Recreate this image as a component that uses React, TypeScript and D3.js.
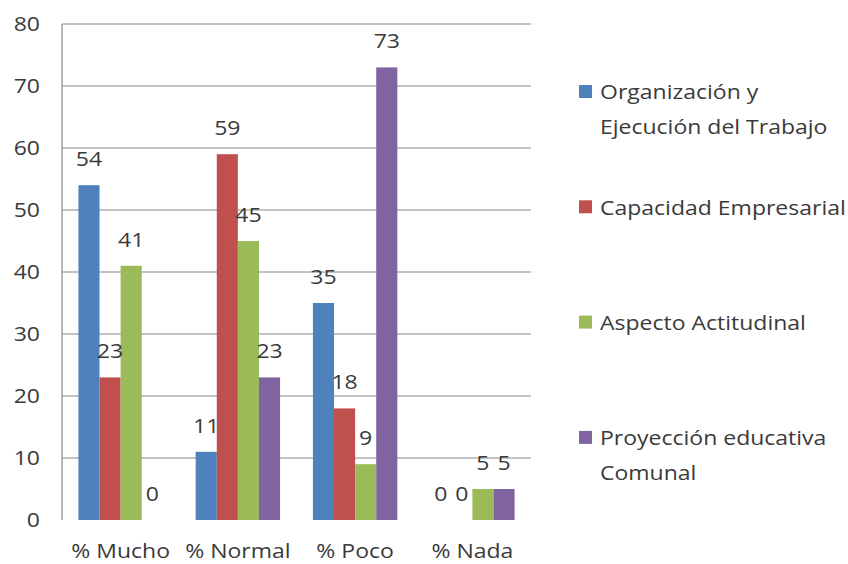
import React, { useRef, useEffect } from 'react';
import * as d3 from 'd3';

const categories = ['% Mucho', '% Normal', '% Poco', '% Nada'];
const seriesNames = [
  'Organización y Ejecución del Trabajo',
  'Capacidad Empresarial',
  'Aspecto Actitudinal',
  'Proyección educativa Comunal',
];
// legend text split into lines as in the picture
const legendLines = [
  ['Organización y', 'Ejecución del Trabajo'],
  ['Capacidad Empresarial'],
  ['Aspecto Actitudinal'],
  ['Proyección educativa', 'Comunal'],
];
const seriesColors = ['#4F81BD', '#C0504D', '#9BBB59', '#8064A2'];

const organizacion = [54, 11, 35, 0];
const capacidad = [23, 59, 18, 0];
const aspecto = [41, 45, 9, 5];
const proyeccion = [0, 23, 73, 5];

const yTicks = [0, 10, 20, 30, 40, 50, 60, 70, 80];

const W = 848;
const H = 564;
const FONT = "'Open Sans', 'DejaVu Sans', sans-serif";
const TEXT = '#3a3a3a';
const FS = '20px';
const SX = 1.15; // the original text is a bit stretched sideways

const App: React.FC = () => {
  const svgRef = useRef<SVGSVGElement>(null);

  useEffect(() => {
    if (!svgRef.current) return;
    const svg = d3.select(svgRef.current);
    svg.selectAll('*').remove();

    const series = [organizacion, capacidad, aspecto, proyeccion];
    const left = 62, right = 531, top = 24, bottom = 520;

    const x0 = d3.scaleBand<string>()
      .domain(categories)
      .range([left, right])
      .paddingInner(0.28)
      .paddingOuter(0.14);

    const x1 = d3.scaleBand<number>()
      .domain(d3.range(seriesNames.length))
      .range([0, x0.bandwidth()]);

    const y = d3.scaleLinear().domain([0, 80]).range([bottom, top]);

    // gridlines
    svg.append('g')
      .selectAll('line')
      .data(yTicks.filter(t => t > 0))
      .enter()
      .append('line')
      .attr('x1', left)
      .attr('x2', right)
      .attr('y1', d => y(d))
      .attr('y2', d => y(d))
      .attr('stroke', '#8a8a8a')
      .attr('stroke-width', 1.2);

    // y axis line
    svg.append('line')
      .attr('x1', left)
      .attr('x2', left)
      .attr('y1', y(80))
      .attr('y2', y(0))
      .attr('stroke', '#8a8a8a')
      .attr('stroke-width', 1.2);

    // y tick labels
    svg.append('g')
      .selectAll('text')
      .data(yTicks)
      .enter()
      .append('text')
      .attr('transform', d => `translate(40,${y(d)}) scale(${SX},1)`)
      .attr('dy', '0.36em')
      .attr('text-anchor', 'end')
      .style('font-family', FONT)
      .style('font-size', FS)
      .style('fill', TEXT)
      .text(d => d);

    // bars
    const groups = svg.append('g')
      .selectAll('g')
      .data(categories)
      .enter()
      .append('g')
      .attr('transform', d => `translate(${x0(d)},0)`);

    groups.selectAll('rect')
      .data((_, ci) => series.map((s, si) => ({ si, v: s[ci] })))
      .enter()
      .append('rect')
      .attr('x', d => x1(d.si)!)
      .attr('width', x1.bandwidth())
      .attr('y', d => y(d.v))
      .attr('height', d => y(0) - y(d.v))
      .attr('fill', d => seriesColors[d.si]);

    groups.selectAll('text')
      .data((_, ci) => series.map((s, si) => ({ si, v: s[ci] })))
      .enter()
      .append('text')
      .attr('transform', d =>
        `translate(${x1(d.si)! + x1.bandwidth() / 2},${y(d.v) - 19}) scale(${SX},1)`)
      .attr('text-anchor', 'middle')
      .style('font-family', FONT)
      .style('font-size', FS)
      .style('fill', TEXT)
      .text(d => d.v);

    // category labels
    svg.append('g')
      .selectAll('text')
      .data(categories)
      .enter()
      .append('text')
      .attr('transform', d =>
        `translate(${x0(d)! + x0.bandwidth() / 2},558) scale(${SX},1)`)
      .attr('text-anchor', 'middle')
      .style('font-family', FONT)
      .style('font-size', FS)
      .style('fill', TEXT)
      .text(d => d);

    // legend
    const legend = svg.append('g')
      .selectAll('g')
      .data(legendLines)
      .enter()
      .append('g')
      .attr('transform', (_, i) => `translate(579,${92 + i * 115.3})`);

    legend.append('rect')
      .attr('x', 0)
      .attr('y', -7)
      .attr('width', 13)
      .attr('height', 13)
      .attr('fill', (_, i) => seriesColors[i]);

    legend.each(function (lines) {
      d3.select(this)
        .selectAll('text')
        .data(lines)
        .enter()
        .append('text')
        .attr('transform', (_, j) => `translate(21,${j * 35}) scale(${SX},1)`)
        .attr('dy', '0.36em')
        .style('font-family', FONT)
        .style('font-size', FS)
        .style('fill', TEXT)
        .text(d => d);
    });
  }, []);

  return (
    <svg
      ref={svgRef}
      width={W}
      height={H}
      viewBox={`0 0 ${W} ${H}`}
      style={{ position: 'absolute', left: 0, top: 0, background: '#fff' }}
    />
  );
};

export default App;
